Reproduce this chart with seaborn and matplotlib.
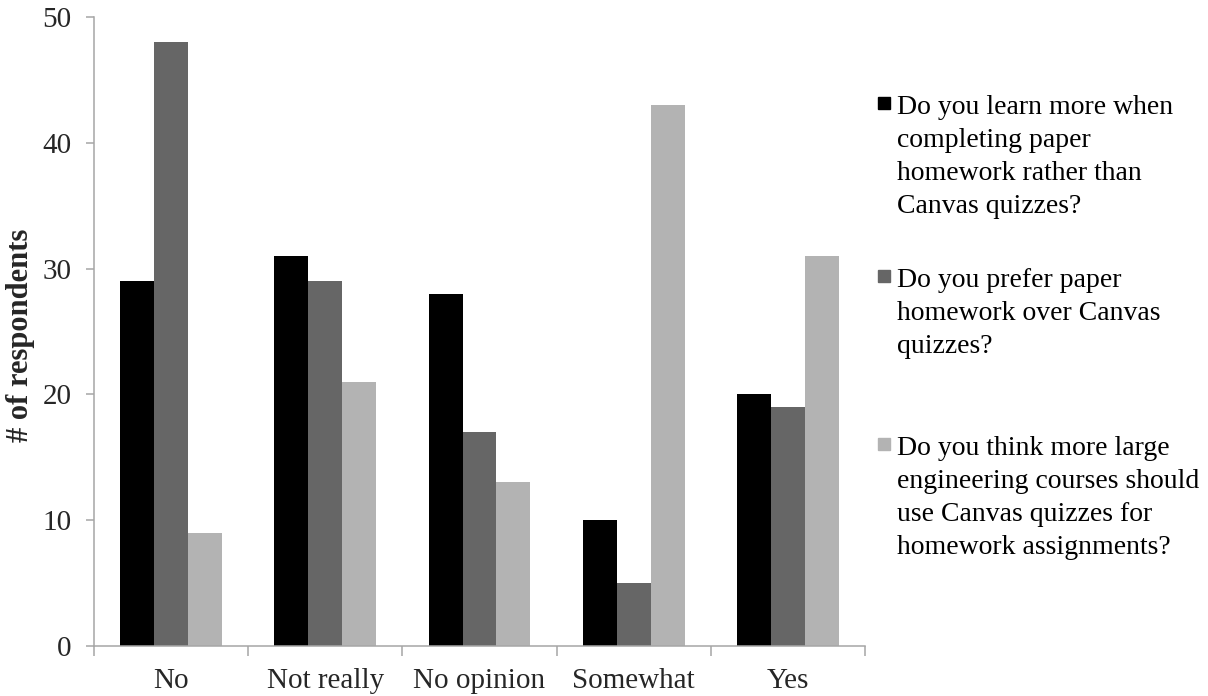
import matplotlib
matplotlib.use("Agg")
import matplotlib.pyplot as plt
from matplotlib.patches import Rectangle
import pandas as pd
import seaborn as sns

# Survey answers (x categories)
answers = ["No", "Not really", "No opinion", "Somewhat", "Yes"]

# One question per series, with the line breaks used in the key
questions = [
    "Do you learn more when\ncompleting paper\nhomework rather than\nCanvas quizzes?",
    "Do you prefer paper\nhomework over Canvas\nquizzes?",
    "Do you think more large\nengineering courses should\nuse Canvas quizzes for\nhomework assignments?",
]

# Number of respondents per answer, one list per question
learn_more = [29, 31, 28, 10, 20]
prefer_paper = [48, 29, 17, 5, 19]
use_canvas = [9, 21, 13, 43, 31]

y_ticks = [0, 10, 20, 30, 40, 50]

colors = ["#000000", "#666666", "#b3b3b3"]

df = pd.DataFrame({
    "answer": answers * 3,
    "count": learn_more + prefer_paper + use_canvas,
    "question": [q for q in questions for _ in answers],
})

sns.set_theme(style="white")
plt.rcParams["font.family"] = ["Liberation Serif", "DejaVu Serif"]

W, H = 1208, 696
fig = plt.figure(figsize=(W / 100, H / 100), dpi=100)
ax = fig.add_axes([94 / W, 1 - 646 / H, (865 - 94) / W, (646 - 17) / H])

sns.barplot(
    data=df, x="answer", y="count", hue="question",
    order=answers, hue_order=questions, palette=colors,
    width=0.66, gap=0, saturation=1, legend=False, ax=ax,
    linewidth=0,
)

ax.set_xlim(-0.5, len(answers) - 0.5)
ax.set_ylim(0, 50)
ax.set_yticks(y_ticks)
ax.set_xlabel("")
ax.set_ylabel("# of respondents", fontsize=22, fontweight="bold")
ax.yaxis.set_label_coords(-0.076, 0.494)

axis_grey = "#a6a6a6"
for side in ("top", "right"):
    ax.spines[side].set_visible(False)
for side in ("left", "bottom"):
    ax.spines[side].set_color(axis_grey)
    ax.spines[side].set_linewidth(1.1)

ax.tick_params(axis="y", which="major", direction="out", length=6, width=1.1,
               color=axis_grey, labelsize=21, pad=10, left=True)
# category separators on the x axis
ax.set_xticks([i - 0.5 for i in range(len(answers) + 1)], minor=True)
ax.tick_params(axis="x", which="minor", direction="out", length=7, width=1.1,
               color=axis_grey, bottom=True)
ax.tick_params(axis="x", which="major", length=0, labelsize=21, pad=16)
ax.grid(False)

# key: small squares with the question text beside them, one line at a time
key_x = 878
text_x = 897
line_step = 33
first_baselines = [114, 287, 455]
for color, q, base in zip(colors, questions, first_baselines):
    fig.patches.append(Rectangle((key_x / W, 1 - (base - 5) / H), 12 / W, 12 / H,
                                 transform=fig.transFigure, color=color,
                                 zorder=3))
    for k, line in enumerate(q.split("\n")):
        fig.text(text_x / W, 1 - (base + k * line_step) / H, line,
                 fontsize=20, va="baseline", ha="left", color="black")

fig.savefig("out.png", dpi=100, facecolor="white")
